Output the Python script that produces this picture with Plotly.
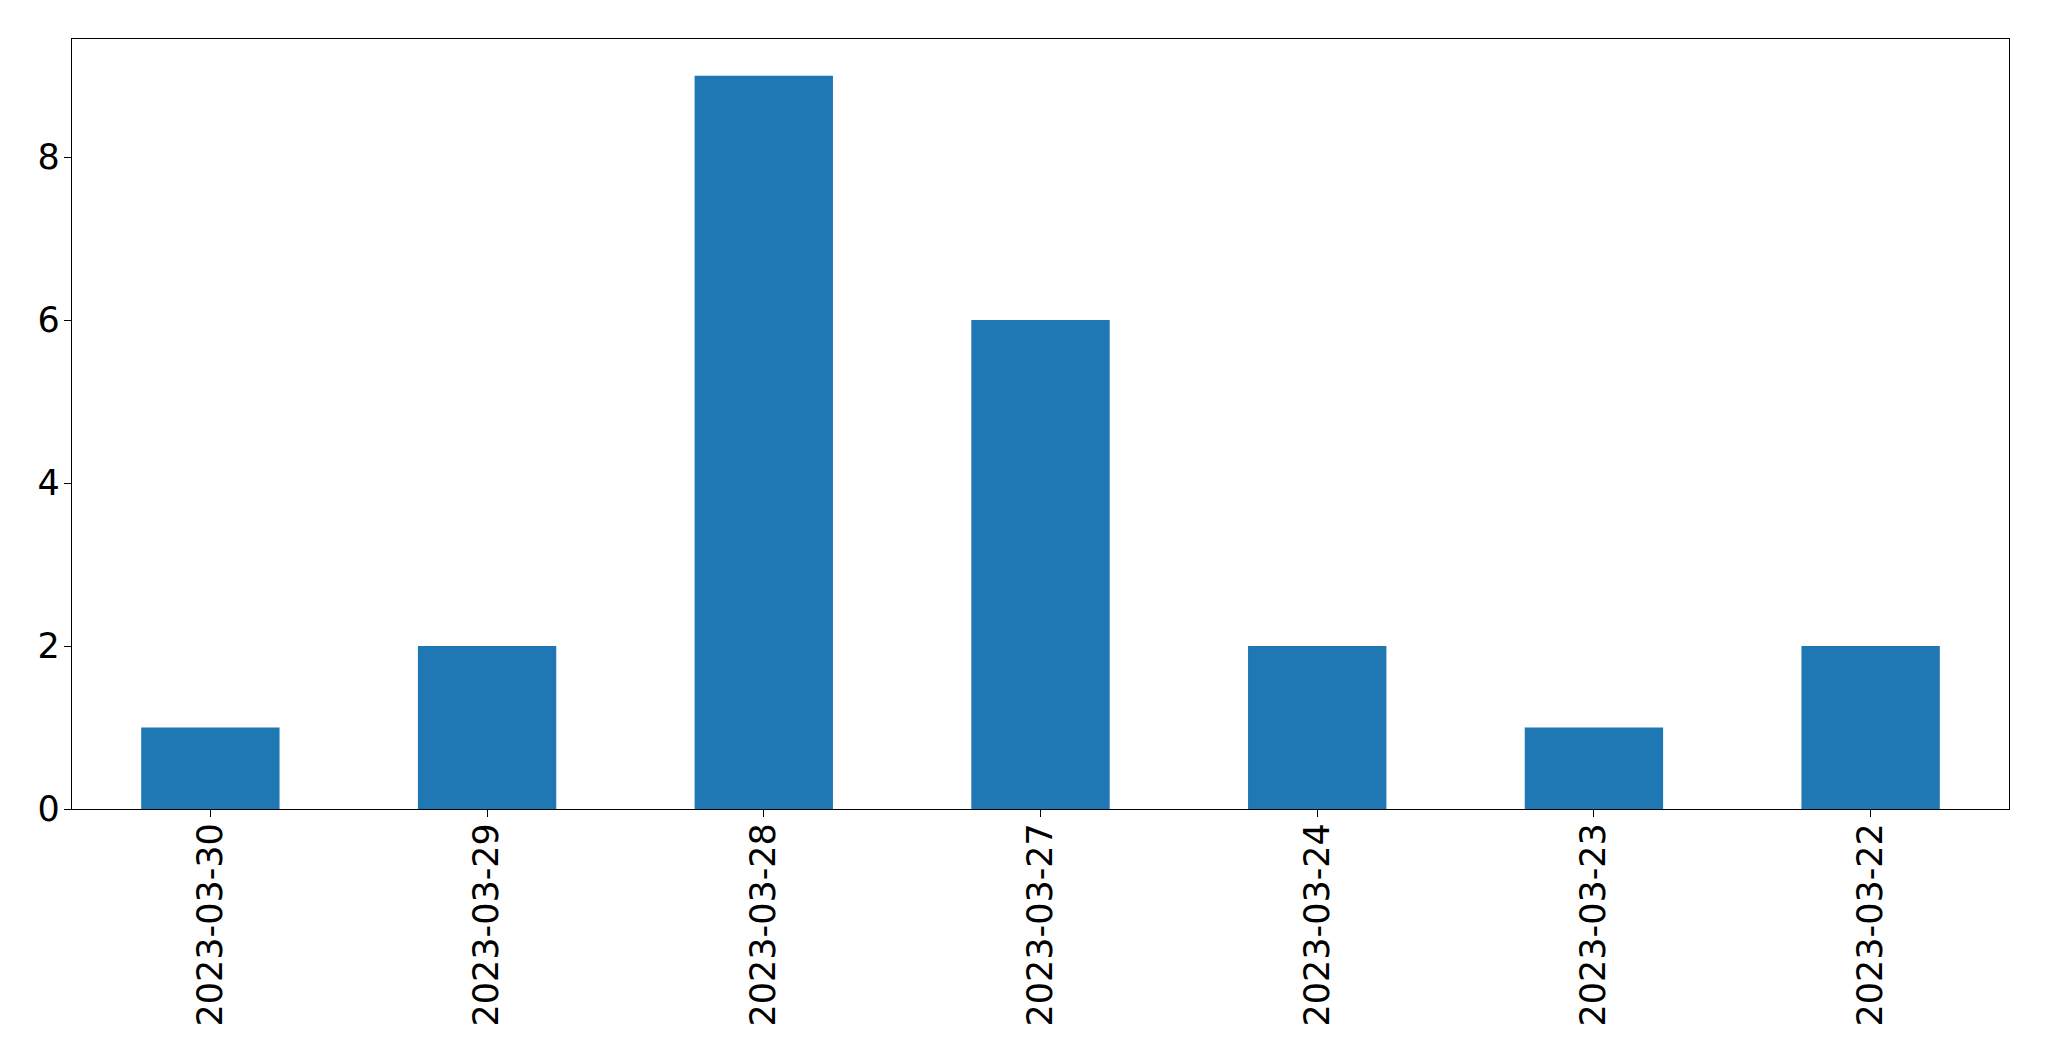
import plotly.graph_objects as go

dates = ["2023-03-30", "2023-03-29", "2023-03-28", "2023-03-27", "2023-03-24", "2023-03-23", "2023-03-22"]
counts = [1, 2, 9, 6, 2, 1, 2]
y_ticks = [0, 2, 4, 6, 8]

fig = go.Figure(go.Bar(x=dates, y=counts, marker=dict(color="#1f77b4", line=dict(width=0)), width=0.5))

fig.update_layout(
    width=2049, height=1061,
    margin=dict(l=72, r=40, t=39, b=252),
    paper_bgcolor="white", plot_bgcolor="white",
    font=dict(family="DejaVu Sans", size=35, color="black"),
    showlegend=False,
)
fig.update_xaxes(
    type="category", range=[-0.5, 6.5], tickangle=-90,
    showline=True, linecolor="black", linewidth=1.3, mirror=True,
    ticks="outside", ticklen=7, tickwidth=1.3, tickcolor="black",
    showgrid=False, zeroline=False, ticklabelstandoff=-8,
)
fig.update_yaxes(
    range=[0, 9.45], tickvals=y_ticks,
    showline=True, linecolor="black", linewidth=1.3, mirror=True,
    ticks="outside", ticklen=7, tickwidth=1.3, tickcolor="black",
    showgrid=False, zeroline=False, ticklabelstandoff=-3,
)
fig.write_html(
    "out.html",
    config={"displayModeBar": False},
    post_script="document.body.style.margin='0';document.body.style.overflow='hidden';",
)
